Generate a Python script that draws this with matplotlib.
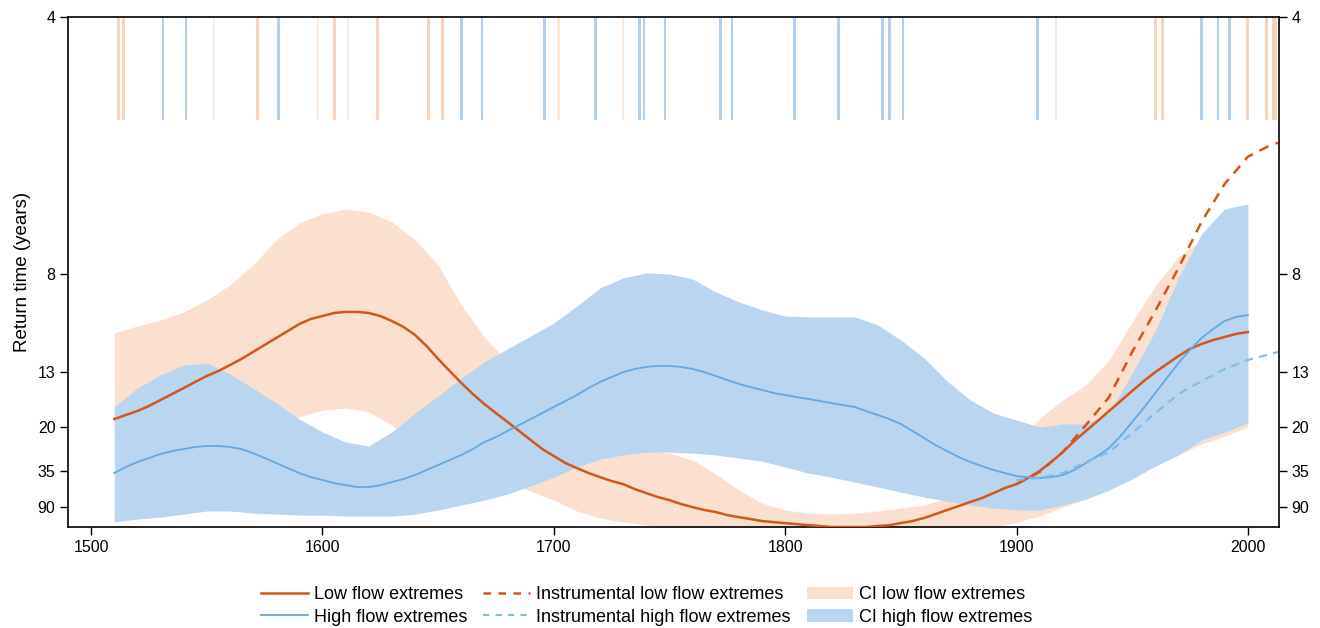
import numpy as np
import matplotlib
matplotlib.use("Agg")
import matplotlib.pyplot as plt
from matplotlib.patches import Patch
from matplotlib.lines import Line2D

plt.rcParams['font.family'] = ['Liberation Sans', 'DejaVu Sans']

# occurrence rates (events / yr); the axis is labelled as return time = 1 / rate
line_years = np.arange(1510, 2001, 5)

low_rate = [0.0541, 0.0561, 0.0580, 0.0605, 0.0634, 0.0663, 0.0692, 0.0722, 0.0751, 0.0775,
            0.0804, 0.0834, 0.0868, 0.0902, 0.0936, 0.0970, 0.1004, 0.1029, 0.1043, 0.1058,
            0.1063, 0.1063, 0.1058, 0.1043, 0.1019, 0.0990, 0.0951, 0.0897, 0.0834, 0.0775,
            0.0717, 0.0663, 0.0614, 0.0570, 0.0527, 0.0483, 0.0439, 0.0395, 0.0361, 0.0327,
            0.0302, 0.0278, 0.0258, 0.0239, 0.0224, 0.0200, 0.0180, 0.0161, 0.0146, 0.0127,
            0.0112, 0.0098, 0.0088, 0.0073, 0.0063, 0.0054, 0.0044, 0.0039, 0.0034, 0.0029,
            0.0024, 0.0020, 0.0015, 0.0015, 0.0015, 0.0015, 0.0020, 0.0024, 0.0034, 0.0044,
            0.0059, 0.0078, 0.0098, 0.0117, 0.0137, 0.0156, 0.0180, 0.0205, 0.0224, 0.0254,
            0.0288, 0.0332, 0.0380, 0.0434, 0.0483, 0.0531, 0.0580, 0.0629, 0.0678, 0.0726,
            0.0770, 0.0809, 0.0848, 0.0883, 0.0907, 0.0926, 0.0941, 0.0956, 0.0965]

high_rate = [0.0278, 0.0307, 0.0332, 0.0351, 0.0371, 0.0385, 0.0395, 0.0405, 0.0410, 0.0410,
             0.0405, 0.0395, 0.0375, 0.0351, 0.0327, 0.0302, 0.0278, 0.0258, 0.0244, 0.0229,
             0.0219, 0.0210, 0.0210, 0.0219, 0.0234, 0.0249, 0.0268, 0.0293, 0.0317, 0.0341,
             0.0366, 0.0395, 0.0429, 0.0453, 0.0483, 0.0512, 0.0541, 0.0570, 0.0600, 0.0629,
             0.0658, 0.0692, 0.0722, 0.0746, 0.0770, 0.0785, 0.0795, 0.0800, 0.0800, 0.0795,
             0.0785, 0.0770, 0.0751, 0.0731, 0.0712, 0.0697, 0.0683, 0.0668, 0.0658, 0.0648,
             0.0639, 0.0629, 0.0619, 0.0609, 0.0600, 0.0580, 0.0561, 0.0541, 0.0517, 0.0483,
             0.0449, 0.0414, 0.0385, 0.0356, 0.0332, 0.0312, 0.0293, 0.0278, 0.0263, 0.0258,
             0.0254, 0.0258, 0.0268, 0.0293, 0.0327, 0.0361, 0.0400, 0.0458, 0.0527, 0.0595,
             0.0668, 0.0741, 0.0814, 0.0878, 0.0936, 0.0980, 0.1019, 0.1039, 0.1048]

# confidence bands, 10-yr steps
ci_years = np.arange(1510, 2001, 10)

low_ci_hi = [0.0961, 0.0995, 0.1024, 0.1063, 0.1121, 0.1195, 0.1292, 0.1414, 0.1497, 0.1541,
             0.1565, 0.1550, 0.1502, 0.1414, 0.1292, 0.1097, 0.0941, 0.0819, 0.0673, 0.0561,
             0.0488, 0.0439, 0.0405, 0.0385, 0.0375, 0.0341, 0.0273, 0.0195, 0.0132, 0.0098,
             0.0083, 0.0078, 0.0083, 0.0093, 0.0107, 0.0122, 0.0156, 0.0205, 0.0293, 0.0414,
             0.0546, 0.0634, 0.0707, 0.0829, 0.1014, 0.1190, 0.1331, 0.1414, 0.1438, 0.1453]

low_ci_lo = [0.0439, 0.0453, 0.0478, 0.0512, 0.0536, 0.0546, 0.0551, 0.0551, 0.0551, 0.0585,
             0.0595, 0.0575, 0.0512, 0.0424, 0.0366, 0.0317, 0.0273, 0.0234, 0.0190, 0.0146,
             0.0093, 0.0059, 0.0039, 0.0024, 0.0010, 0.0010, 0.0010, 0.0010, 0.0010, 0.0010,
             0.0010, 0.0010, 0.0010, 0.0010, 0.0010, 0.0010, 0.0010, 0.0010, 0.0010, 0.0039,
             0.0068, 0.0112, 0.0151, 0.0195, 0.0254, 0.0312, 0.0366, 0.0419, 0.0458, 0.0502]

high_ci_hi = [0.0600, 0.0692, 0.0756, 0.0804, 0.0814, 0.0761, 0.0692, 0.0619, 0.0541, 0.0478,
              0.0429, 0.0410, 0.0478, 0.0570, 0.0653, 0.0741, 0.0819, 0.0883, 0.0946, 0.1009,
              0.1092, 0.1180, 0.1229, 0.1253, 0.1248, 0.1224, 0.1160, 0.1112, 0.1073, 0.1043,
              0.1039, 0.1039, 0.1039, 0.1000, 0.0926, 0.0839, 0.0726, 0.0634, 0.0570, 0.0536,
              0.0502, 0.0517, 0.0517, 0.0570, 0.0765, 0.0970, 0.1229, 0.1443, 0.1565, 0.1589]

high_ci_lo = [0.0039, 0.0054, 0.0063, 0.0078, 0.0093, 0.0093, 0.0083, 0.0078, 0.0073, 0.0073,
              0.0068, 0.0068, 0.0068, 0.0078, 0.0098, 0.0122, 0.0146, 0.0176, 0.0215, 0.0258,
              0.0307, 0.0346, 0.0366, 0.0380, 0.0380, 0.0375, 0.0366, 0.0351, 0.0336, 0.0307,
              0.0278, 0.0258, 0.0234, 0.0210, 0.0185, 0.0161, 0.0141, 0.0122, 0.0107, 0.0098,
              0.0098, 0.0122, 0.0151, 0.0195, 0.0249, 0.0312, 0.0366, 0.0439, 0.0478, 0.0522]

# instrumental record
inst_years = [1900, 1910, 1920, 1930, 1940, 1950, 1960, 1970, 1980, 1990, 2000, 2010, 2013]
inst_low_rate = [0.0224, 0.0283, 0.0380, 0.0512, 0.0648, 0.0868, 0.1068, 0.1277, 0.1502,
                 0.1687, 0.1819, 0.1877, 0.1887]
inst_high_rate = [0.0244, 0.0254, 0.0278, 0.0332, 0.0380, 0.0473, 0.0570, 0.0663, 0.0726,
                  0.0785, 0.0829, 0.0858, 0.0868]

# individual extreme events (rug at the top)
low_events = [1512, 1514, 1572, 1605, 1624, 1646, 1652, 1960, 1963, 2000, 2008, 2011, 2012]
low_events_weak = [1553, 1598, 1611, 1702, 1730, 1917]
high_events = [1531, 1541, 1581, 1660, 1669, 1696, 1718, 1737, 1739, 1748, 1772, 1777,
               1804, 1823, 1842, 1845, 1851, 1909, 1980, 1987, 1992]

return_ticks = [4, 8, 13, 20, 35, 90]

c_low = '#d4561a'
c_high = '#62a8e3'
c_low_ci = '#fbe0cf'
c_high_ci = '#b9d5f0'

fig = plt.figure(figsize=(13.2, 6.28), dpi=100)
ax = fig.add_axes([0.0515, 0.1608, 0.9175, 0.8121])

# rug of events
rug_lo, rug_hi = 0.2, 0.25
ax.bar(low_events, rug_hi - rug_lo, bottom=rug_lo, width=1.3, color='#f7c9ab', alpha=0.8, lw=0)
ax.bar(low_events_weak, rug_hi - rug_lo, bottom=rug_lo, width=1.0, color='#f7d9c4', alpha=0.6, lw=0)
ax.bar(high_events, rug_hi - rug_lo, bottom=rug_lo, width=1.1, color='#9fc3e8', alpha=0.8, lw=0)

ax.fill_between(ci_years, low_ci_lo, low_ci_hi, color=c_low_ci, lw=0, zorder=1)
ax.fill_between(ci_years, high_ci_lo, high_ci_hi, color=c_high_ci, lw=0, zorder=2)

ax.plot(line_years, low_rate, color=c_low, lw=1.8, zorder=4)
ax.plot(line_years, high_rate, color=c_high, lw=1.3, zorder=4)
ax.plot(inst_years, inst_low_rate, color=c_low, lw=1.8, ls=(0, (4, 3)), zorder=5)
ax.plot(inst_years, inst_high_rate, color='#7dbbe8', lw=1.5, ls=(0, (4, 3)), zorder=5)

ax.set_xlim(1490, 2013.5)
ax.set_ylim(0.0015, 0.25)
ax.set_xticks(range(1500, 2001, 100))

rate_ticks = [1.0 / t for t in return_ticks]
ax.set_yticks(rate_ticks)
ax.set_yticklabels([str(t) for t in return_ticks])
ax.tick_params(axis='both', direction='out', length=6, width=1, labelsize=11.5, pad=3)
ax.tick_params(axis='y', right=True, labelright=True)
for s in ax.spines.values():
    s.set_linewidth(1.2)
ax.set_ylabel('Return time (years)', fontsize=13.5, labelpad=5)

handles = [
    Line2D([], [], color=c_low, lw=1.8),
    Line2D([], [], color=c_high, lw=1.3),
    Line2D([], [], color=c_low, lw=1.8, ls=(0, (3, 3))),
    Line2D([], [], color='#7dbbe8', lw=1.5, ls=(0, (3, 3))),
    Patch(color=c_low_ci, lw=0),
    Patch(color=c_high_ci, lw=0),
]
labels = ['Low flow extremes', 'High flow extremes',
          'Instrumental low flow extremes', 'Instrumental high flow extremes',
          'CI low flow extremes', 'CI high flow extremes']
fig.legend(handles, labels, loc='lower center', bbox_to_anchor=(0.49, -0.022), ncol=3,
           frameon=False, handlelength=2.6, handletextpad=0.3,
           columnspacing=0.9, labelspacing=0.3,
           prop={'family': ['Liberation Sans', 'DejaVu Sans'], 'size': 13})

fig.savefig('out.png', dpi=100)
